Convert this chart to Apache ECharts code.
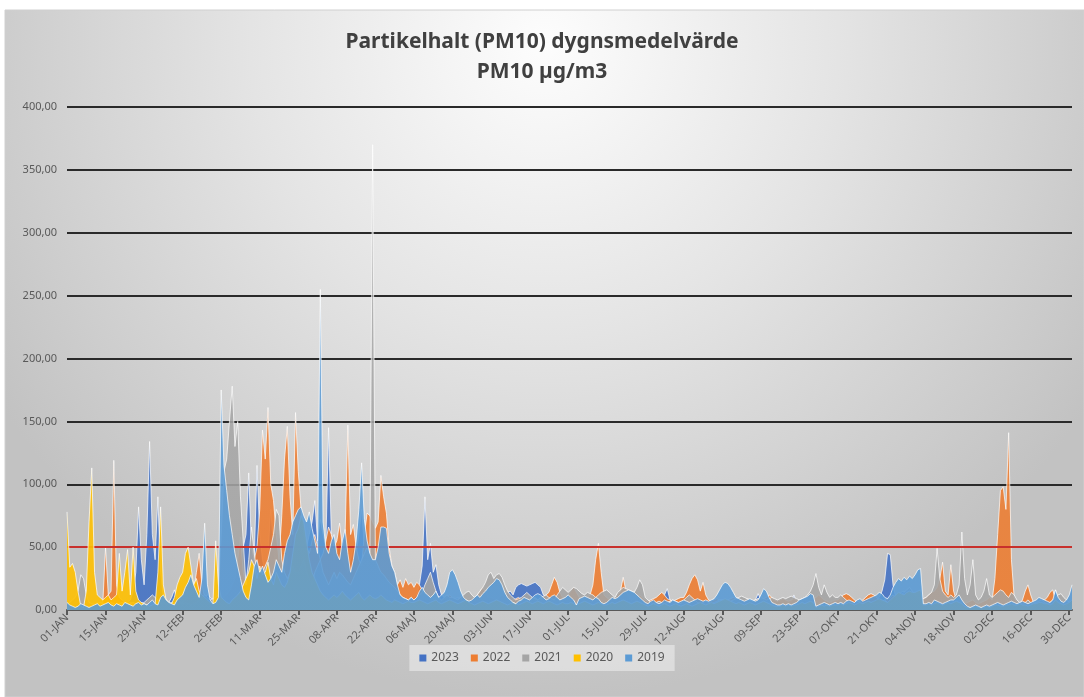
<!DOCTYPE html>
<html><head><meta charset="utf-8">
<script src="https://cdn.jsdelivr.net/npm/echarts@6/dist/echarts.min.js"></script>
<style>html,body{margin:0;padding:0;background:#fff}#c{width:1084px;height:697px}</style>
</head><body><div id="c"></div>
<script>
const TITLE = 'Partikelhalt (PM10) dygnsmedelvärde';
const SUBTITLE = 'PM10 µg/m3';
const MONTHS = ['JAN','FEB','MAR','APR','MAJ','JUN','JUL','AUG','SEP','OKT','NOV','DEC'];
const DAYS_IN_MONTH = [31,29,31,30,31,30,31,31,30,31,30,31];
const LIMIT = 50;
const SERIES_NAMES = ['2023','2022','2021','2020','2019'];
const COLORS = ['#4472C4','#ED7D31','#A5A5A5','#FFC000','#5B9BD5'];

const v2023 = [
5,4,5,6,5,4,5,6,5,4,5,6,5,4,
5,6,5,4,5,6,5,4,6,8,15,30,82,40,
20,60,134,60,40,90,30,10,8,6,10,16,8,6,
5,6,7,8,6,5,6,8,10,12,10,8,6,5,
8,10,12,15,20,25,30,40,50,60,109,50,40,115,
60,40,30,45,80,50,30,25,20,30,40,50,60,55,
50,45,40,50,60,70,87,55,72,60,50,145,60,40,
45,55,40,35,30,40,50,45,60,80,50,40,35,30,
30,25,20,18,15,12,10,8,10,12,10,8,9,10,
10,12,20,35,90,40,53,30,36,20,12,10,8,9,
8,9,10,8,7,8,9,10,8,9,10,8,9,10,
10,9,8,9,10,12,14,15,12,18,20,21,20,19,
20,21,22,20,18,12,10,9,8,9,10,8,9,10,
8,7,6,7,8,6,5,6,7,8,6,5,6,7,
6,5,6,7,6,5,6,7,6,5,6,7,6,5,
5,6,5,6,7,6,8,12,17,8,6,5,6,5,
6,5,6,7,6,5,6,7,6,5,6,7,6,7,
6,5,6,7,6,5,6,7,6,5,6,7,8,13,
8,6,5,4,5,4,5,4,5,4,5,6,12,6,
5,6,5,4,5,6,4,5,6,5,4,5,6,5,
6,5,6,5,6,5,6,7,6,7,10,8,6,7,
8,10,15,24,45,44,20,10,12,14,15,12,10,8,
8,7,6,5,6,5,6,5,6,5,6,5,6,5,
5,6,5,4,3,2,3,2,3,2,3,2,3,2,
3,4,3,4,3,4,5,4,5,4,5,4,5,4,
5,4,5,6,5,6,7,6,7,16,8,6,5,6,7,6
];
const v2022 = [
5,6,5,4,6,5,4,5,6,5,4,5,6,5,
50,12,15,119,20,10,8,6,5,6,5,4,5,6,
5,4,5,6,5,4,5,6,5,4,5,6,5,4,
6,8,10,12,15,30,45,20,10,8,6,5,6,8,
8,10,12,15,20,25,40,58,30,20,25,30,40,50,
80,143,120,161,100,87,60,40,75,120,146,90,60,157,
110,80,60,50,45,55,60,50,40,45,55,66,60,50,
55,69,50,60,147,60,68,50,40,35,60,77,75,70,
65,70,107,90,77,50,35,30,20,24,18,25,20,22,
18,22,20,16,12,10,8,9,10,8,7,9,10,12,
10,8,9,10,8,7,8,9,10,12,15,18,14,10,
10,9,8,10,12,10,8,7,8,9,10,8,7,8,
8,9,10,8,9,10,12,14,20,26,22,14,10,8,
12,15,18,14,10,8,9,10,12,20,40,53,30,12,
10,8,9,10,12,15,26,15,10,8,9,10,12,10,
8,7,8,9,10,12,14,12,9,8,7,8,9,10,
10,14,20,25,28,24,15,22,12,8,7,8,9,8,
8,7,8,9,10,9,8,7,8,9,8,7,8,9,
8,9,10,12,10,8,7,8,9,8,7,8,9,8,
6,7,8,7,8,9,10,12,10,8,7,6,7,8,
8,10,12,13,12,10,8,6,7,8,10,12,13,12,
10,8,7,8,9,10,12,10,8,7,8,9,10,8,
8,7,8,9,10,12,14,15,18,25,38,15,12,36,
15,8,7,6,5,6,7,8,6,5,6,7,8,10,
8,25,60,95,98,80,141,40,10,6,5,8,15,20,
12,6,5,6,7,8,10,14,16,8,6,5,6,7,6,5
];
const v2021 = [
5,6,8,10,15,28,25,12,6,5,4,5,6,5,
5,4,6,5,4,5,6,5,4,5,6,5,4,5,
6,8,10,12,10,8,6,5,4,5,6,5,4,5,
5,6,5,4,5,6,8,10,12,10,8,9,10,12,
60,110,120,150,178,130,150,90,55,20,40,66,45,30,
25,30,35,40,50,60,80,75,40,30,25,30,35,30,
30,35,40,30,25,20,30,35,40,30,25,20,25,30,
25,30,28,25,22,20,25,30,35,40,45,50,45,370,
40,35,30,28,25,22,20,18,15,12,10,9,8,10,
8,10,12,14,20,25,30,22,15,10,8,10,12,10,
10,9,8,10,12,14,15,12,10,12,15,18,22,28,
30,25,28,29,26,20,15,12,10,8,9,10,12,14,
12,10,9,8,10,11,12,10,9,8,12,15,18,16,
14,16,18,17,15,13,12,14,13,12,10,12,14,15,
16,14,12,10,14,16,18,17,16,15,14,18,24,20,
10,8,6,5,6,7,6,5,6,7,8,7,6,5,
8,10,12,10,8,6,5,6,7,6,5,6,7,8,
8,7,6,7,8,9,10,11,10,9,8,7,8,9,
10,9,8,9,10,9,8,9,10,9,10,11,10,9,
8,9,10,12,15,20,29,18,12,20,14,10,12,10,
10,12,10,8,6,5,6,7,6,5,6,7,6,5,
5,6,7,8,6,5,6,8,10,12,14,16,18,15,
12,10,8,9,10,12,14,20,49,25,15,12,10,12,
10,12,20,62,25,12,20,40,12,8,10,15,25,12,
10,12,14,16,15,12,10,14,12,8,6,5,6,8,
6,5,6,7,8,6,5,6,8,10,12,13,10,8,6,8
];
const v2020 = [
78,34,37,30,15,3,2,15,70,113,30,12,10,8,
10,12,8,10,12,45,15,30,48,12,50,15,8,6,
5,4,3,4,5,30,82,20,8,6,5,10,20,26,
30,45,50,35,20,25,15,12,10,8,6,5,55,20,
10,8,6,5,8,10,12,15,20,25,30,40,35,25,
35,28,30,38,25,20,30,25,20,18,22,30,45,60,
65,75,70,55,40,30,25,20,15,12,10,8,10,12,
10,12,15,12,10,8,10,12,14,10,8,10,12,10,
9,10,12,10,8,7,6,8,7,6,5,6,7,6,
6,7,8,7,6,5,6,7,8,6,5,6,7,8,
7,6,5,6,7,8,6,5,4,5,6,7,6,5,
6,7,8,7,6,5,4,5,6,5,4,5,6,7,
6,5,6,7,6,5,6,7,6,5,4,5,6,5,
5,6,5,4,5,6,7,6,5,4,5,6,5,4,
4,5,6,5,6,7,8,7,6,5,6,7,6,5,
4,3,4,5,4,3,4,5,4,3,4,5,4,3,
4,5,4,3,4,5,6,5,4,5,6,5,6,7,
8,9,8,7,6,5,6,5,4,5,6,5,4,5,
6,7,6,5,4,3,3,3,4,3,4,3,4,4,
5,6,5,6,7,6,2,3,4,3,4,3,4,4,
4,5,4,5,6,5,4,5,6,5,6,7,6,7,
8,9,8,7,6,8,10,12,14,13,12,14,15,14,
14,15,16,4,4,5,4,5,6,5,4,5,6,5,
6,7,6,5,3,2,2,2,3,2,2,2,3,2,
3,4,4,3,3,4,4,5,4,4,5,4,4,3,
4,5,5,6,6,5,5,4,5,8,6,5,4,5,6,8
];
const v2019 = [
6,4,3,2,3,5,4,3,2,3,4,5,3,4,
5,6,4,3,5,4,3,6,5,4,3,5,6,4,
5,4,6,8,5,4,10,12,8,6,5,4,8,10,
12,18,22,28,20,15,10,25,69,20,8,5,6,10,
175,115,95,75,60,45,35,25,15,10,8,20,35,40,
30,35,28,22,25,30,40,35,30,45,55,60,70,75,
80,82,75,70,78,65,55,45,255,70,50,45,55,60,
45,40,55,64,45,30,40,55,80,117,72,55,45,40,
40,50,66,66,65,45,35,30,20,12,10,9,8,10,
8,10,15,18,14,12,10,12,15,10,12,14,20,30,
32,28,22,15,10,8,7,8,10,12,10,13,15,18,
20,22,25,24,20,14,10,8,6,5,7,8,10,9,
8,10,12,13,12,10,8,9,11,12,10,8,9,10,
12,10,8,4,9,10,11,10,9,8,10,9,6,5,
6,8,10,9,10,12,14,15,16,15,14,12,10,8,
6,5,7,8,6,5,6,8,7,6,8,7,6,7,
8,7,6,7,8,9,8,7,8,7,8,9,12,16,
20,22,21,18,14,10,9,8,7,8,9,8,7,8,
12,17,15,10,6,5,4,4,5,4,5,4,5,6,
8,9,10,11,13,12,3,4,5,6,5,4,5,6,
5,6,5,7,8,7,6,8,9,7,8,9,10,11,
12,14,13,10,9,12,18,22,25,23,26,24,27,25,
28,32,33,5,5,6,5,8,7,6,5,6,7,8,
8,10,12,8,5,3,2,3,4,3,2,3,4,3,
4,5,6,5,4,5,6,7,6,5,6,7,6,5,
6,7,8,10,9,8,7,6,8,16,10,7,6,8,12,20
];
const SERIES_VALUES = [v2023, v2022, v2021, v2020, v2019];

const categories = [];
MONTHS.forEach((m, i) => {
  for (let d = 1; d <= DAYS_IN_MONTH[i]; d++) categories.push((d < 10 ? '0' : '') + d + '-' + m);
});

function rgba(hex, a) {
  const n = parseInt(hex.slice(1), 16);
  return 'rgba(' + (n >> 16) + ',' + ((n >> 8) & 255) + ',' + (n & 255) + ',' + a + ')';
}
const GRID = {left: 67, right: 12, top: 107, bottom: 87};
function fill(hex) {
  return {type: 'linear', x: 0, y: GRID.top, x2: 0, y2: 697 - GRID.bottom, global: true,
    colorStops: [{offset: 0, color: rgba(hex, 0.55)}, {offset: 0.5, color: rgba(hex, 0.85)}, {offset: 1, color: rgba(hex, 0.9)}]};
}

const series = SERIES_NAMES.map((name, i) => {
  const s = {
    name: name, type: 'line', data: SERIES_VALUES[i], symbol: 'none', smooth: false,
    z: 2 + i,
    itemStyle: {color: COLORS[i]},
    lineStyle: {color: 'rgba(255,255,255,0.7)', width: 1},
    areaStyle: {color: fill(COLORS[i]), opacity: 1},
    emphasis: {disabled: true}
  };
  if (i === 0) {
    s.markLine = {silent: true, symbol: 'none', label: {show: false},
      lineStyle: {color: '#C8302C', width: 2, type: 'solid'}, data: [{yAxis: LIMIT}]};
  }
  return s;
});

const chart = echarts.init(document.getElementById('c'), null, {renderer: 'canvas'});
chart.setOption({
  animation: false,
  backgroundColor: '#ffffff',
  graphic: {elements: [{
    type: 'rect', z: -100, silent: true,
    shape: {x: 5, y: 10, width: 1079, height: 687},
    style: {fill: {type: 'radial', x: 0.5, y: 0.05, r: 0.95,
      colorStops: [{offset: 0, color: '#fdfdfd'}, {offset: 0.45, color: '#e4e4e4'}, {offset: 1, color: '#c2c2c2'}]},
      stroke: '#d0d0d0', lineWidth: 1}
  }]},
  title: {
    text: TITLE + '\n' + SUBTITLE, left: 'center', top: 27, padding: 0,
    textStyle: {fontFamily: 'Noto Sans', fontSize: 21, fontWeight: 'bold', color: '#404040', lineHeight: 30}
  },
  legend: {
    data: SERIES_NAMES.map((n, i) => ({name: n, itemStyle: {color: COLORS[i]}})),
    top: 645, left: 'center', icon: 'rect', itemWidth: 7, itemHeight: 7, itemGap: 12,
    padding: [7, 10], backgroundColor: 'rgba(240,240,240,0.55)',
    textStyle: {fontFamily: 'Noto Sans', fontSize: 12, color: '#595959'}
  },
  grid: {left: GRID.left, right: GRID.right, top: GRID.top, bottom: GRID.bottom, containLabel: false},
  xAxis: {
    type: 'category', data: categories, boundaryGap: false,
    axisLine: {lineStyle: {color: '#595959', width: 2}},
    axisTick: {show: true, interval: 13, length: 5, lineStyle: {color: '#595959', width: 2}},
    axisLabel: {interval: 13, rotate: 45, fontFamily: 'Noto Sans', fontSize: 11, color: '#595959', margin: 6},
    splitLine: {show: false}
  },
  yAxis: {
    type: 'value', min: 0, max: 400, interval: 50,
    axisLine: {show: false}, axisTick: {show: false},
    axisLabel: {fontFamily: 'Noto Sans', fontSize: 11, color: '#595959', margin: 10,
      formatter: v => v.toFixed(2).replace('.', ',')},
    splitLine: {lineStyle: {color: '#2a2a2a', width: 2}}
  },
  series: series
});
</script></body></html>
